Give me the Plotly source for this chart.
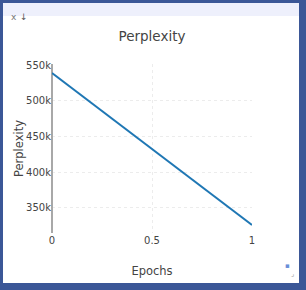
import plotly.graph_objects as go

# Data
epochs = [0, 1]
perplexity = [538800, 326200]

x_ticks = [0, 0.5, 1]
y_ticks = [350000, 400000, 450000, 500000, 550000]
y_tick_text = ["350k", "400k", "450k", "500k", "550k"]

W, H = 306, 290
L, R, T, B = 52, 54, 64, 57
pw, ph = W - L - R, H - T - B


def px(x):
    return (x - L) / pw


def py(y):
    return (H - B - y) / ph


FONT = "DejaVu Sans"
TXT = "#444"

fig = go.Figure()
fig.add_trace(go.Scatter(x=epochs, y=perplexity, mode="lines",
                         line=dict(color="#1f77b4", width=2), showlegend=False))

fig.update_layout(
    width=W, height=H,
    margin=dict(l=L, r=R, t=T, b=B, pad=0),
    paper_bgcolor="#3b5797",
    plot_bgcolor="rgba(0,0,0,0)",
    font=dict(family=FONT, color=TXT, size=10),
    title=dict(text="Perplexity", x=(152 / W), xref="container", xanchor="center",
               y=1 - 36.5 / H, yref="container", yanchor="middle",
               font=dict(family=FONT, size=13.5, color=TXT)),
    xaxis=dict(range=[0, 1], tickvals=x_ticks, ticktext=["0", "0.5", "1"],
               showgrid=True, gridcolor="#ececec", griddash="dot",
               zeroline=True, zerolinecolor="#a8a8a8", zerolinewidth=2,
               showline=False, ticks="",
               tickfont=dict(size=10, color=TXT),
               title=dict(text="Epochs", font=dict(size=11.5, color=TXT), standoff=21)),
    yaxis=dict(range=[315000, 551400], tickvals=y_ticks, ticktext=y_tick_text,
               showgrid=True, gridcolor="#ececec", griddash="dot",
               zeroline=False, showline=False, ticks="",
               tickfont=dict(size=10, color=TXT),
               title=dict(text="Perplexity", font=dict(size=11.5, color=TXT), standoff=0)),
    shapes=[
        dict(type="rect", xref="paper", yref="paper", layer="below",
             x0=px(3), x1=px(299), y0=py(283), y1=py(16),
             fillcolor="white", line=dict(width=0)),
        dict(type="rect", xref="paper", yref="paper", layer="below",
             x0=px(3), x1=px(299), y0=py(16), y1=py(3),
             fillcolor="#eef0fc", line=dict(width=0)),
    ],
    annotations=[
        dict(text="x", x=px(9), y=py(9.5), xref="paper", yref="paper",
             showarrow=False, font=dict(family=FONT, size=9, color="#777")),
        dict(text="↓", x=px(18), y=py(10), xref="paper", yref="paper",
             showarrow=False, font=dict(family=FONT, size=9, color="#555")),
        dict(text="▪", x=px(292), y=py(272), xref="paper", yref="paper",
             showarrow=False, font=dict(family=FONT, size=7, color="#6a8fd8")),
        dict(text="⌟", x=px(296), y=py(280), xref="paper", yref="paper",
             showarrow=False, font=dict(family=FONT, size=7, color="#999")),
    ],
)

fig.write_html("out.html")
